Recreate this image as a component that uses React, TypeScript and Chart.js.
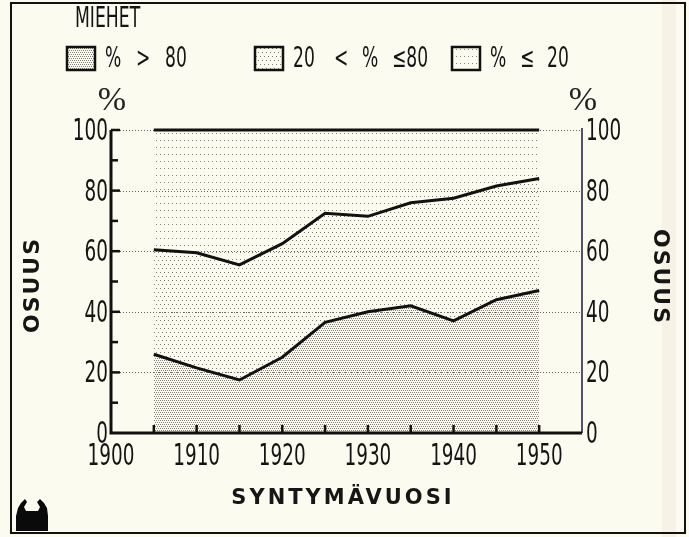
import React, { useEffect, useRef } from "react";
import { Chart, registerables } from "chart.js";

Chart.register(...registerables);

// ---- data ----
const years = [1905, 1910, 1915, 1920, 1925, 1930, 1935, 1940, 1945, 1950];
// cumulative share: % > 80 (lower boundary line)
const shareAbove80 = [26, 21.5, 17.5, 25, 36.5, 40, 42, 37, 44, 47];
// cumulative share: % > 20 (upper boundary line)
const shareAbove20 = [60.5, 59.5, 55.5, 62.5, 72.5, 71.5, 76, 77.5, 81.5, 84];
// everything (top boundary)
const shareAll = [100, 100, 100, 100, 100, 100, 100, 100, 100, 100];

const xTickLabels = [1900, 1910, 1920, 1930, 1940, 1950];
const yTickLabels = [0, 20, 40, 60, 80, 100];
const chartTitle = "MIEHET";
const legendTokens = [
  ["%", ">", "80"],
  ["20", "<", "%", "≤80"],
  ["%", "≤", "20"],
];
const yAxisTitle = "OSUUS";
const xAxisTitle = "SYNTYMÄVUOSI";

const BG = "#fcfbf0";
const NARROW = '"Liberation Sans Narrow", "DejaVu Sans Condensed", "Liberation Sans", sans-serif';

function makePattern(kind: "dense" | "medium" | "sparse"): CanvasPattern | string {
  const c = document.createElement("canvas");
  let dots: number[][] = [];
  let color = "#7d7a72";
  if (kind === "dense") {
    c.width = 4; c.height = 4;
    dots = [[0, 0], [2, 0], [1, 2], [3, 2]];
    color = "#85827a";
  } else if (kind === "medium") {
    c.width = 4; c.height = 8;
    dots = [[0, 0], [2, 4]];
    color = "#7f7c74";
  } else {
    c.width = 4; c.height = 7;
    dots = [[0, 0]];
    color = "#858279";
  }
  const g = c.getContext("2d")!;
  g.fillStyle = color;
  dots.forEach(([x, y]) => g.fillRect(x, y, 1, 1));
  const ctx = document.createElement("canvas").getContext("2d")!;
  return ctx.createPattern(c, "repeat") || color;
}

function narrowText(
  ctx: CanvasRenderingContext2D, text: string, x: number, y: number,
  size: number, align: "left" | "center" | "right", sx = 0.7
) {
  ctx.save();
  ctx.font = `${size}px ${NARROW}`;
  ctx.textBaseline = "middle";
  ctx.textAlign = align;
  ctx.fillStyle = "#141414";
  ctx.translate(x, y);
  ctx.scale(sx, 1);
  ctx.fillText(text, 0, 0);
  ctx.restore();
}

export default function App() {
  const ref = useRef<HTMLCanvasElement>(null);

  useEffect(() => {
    document.body.style.margin = "0";
    const canvas = ref.current!;
    const dense = makePattern("dense");
    const medium = makePattern("medium");
    const sparse = makePattern("sparse");

    const decor = {
      id: "decor",
      beforeDraw(chart: any) {
        const ctx = chart.ctx as CanvasRenderingContext2D;
        ctx.save();
        ctx.fillStyle = BG;
        ctx.fillRect(0, 0, chart.width, chart.height);
        // faint scan band on the right
        ctx.fillStyle = "rgba(235, 200, 190, 0.18)";
        ctx.fillRect(662, 0, 14, chart.height);
        ctx.restore();
      },
      beforeDatasetsDraw(chart: any) {
        const ctx = chart.ctx as CanvasRenderingContext2D;
        const { left, right } = chart.chartArea;
        const y = chart.scales.y;
        ctx.save();
        ctx.strokeStyle = "#66635c";
        ctx.lineWidth = 1;
        ctx.setLineDash([1, 2]);
        [20, 40, 60, 80, 100].forEach((v) => {
          const py = Math.round(y.getPixelForValue(v)) + 0.5;
          ctx.beginPath();
          ctx.moveTo(left, py);
          ctx.lineTo(right, py);
          ctx.stroke();
        });
        ctx.restore();
      },
      afterDatasetsDraw(chart: any) {
        const ctx = chart.ctx as CanvasRenderingContext2D;
        const { left, right, top, bottom } = chart.chartArea;
        const xs = chart.scales.x;
        const ys = chart.scales.y;
        ctx.save();
        // right axis (thin)
        ctx.strokeStyle = "#1d1a3a";
        ctx.lineWidth = 1.5;
        ctx.beginPath();
        ctx.moveTo(right, top - 2);
        ctx.lineTo(right, bottom);
        ctx.stroke();
        // left + bottom axes (thick)
        ctx.strokeStyle = "#111";
        ctx.lineWidth = 3;
        ctx.beginPath();
        ctx.moveTo(left, top);
        ctx.lineTo(left, bottom);
        ctx.lineTo(right, bottom);
        ctx.stroke();
        // y ticks (inward)
        ctx.lineWidth = 2.5;
        for (let v = 10; v <= 100; v += 10) {
          const py = ys.getPixelForValue(v);
          const len = v % 20 === 0 ? 9 : 7;
          ctx.beginPath();
          ctx.moveTo(left, py);
          ctx.lineTo(left + len, py);
          ctx.stroke();
        }
        // x ticks (inward) every 5 years
        for (let v = 1905; v <= 1950; v += 5) {
          const px = xs.getPixelForValue(v);
          ctx.beginPath();
          ctx.moveTo(px, bottom);
          ctx.lineTo(px, bottom - 8);
          ctx.stroke();
        }
        ctx.restore();

        // tick labels
        yTickLabels.forEach((v) => {
          const py = ys.getPixelForValue(v) + 2;
          narrowText(ctx, String(v), left - 3, py, 31, "right", 0.66);
          narrowText(ctx, String(v), right + 4, py, 31, "left", 0.66);
        });
        xTickLabels.forEach((v) => {
          narrowText(ctx, String(v), xs.getPixelForValue(v), bottom + 24, 31, "center", 0.66);
        });

        // % headers
        ctx.save();
        ctx.font = '34px "Liberation Serif", "DejaVu Serif", serif';
        ctx.fillStyle = "#222";
        ctx.textAlign = "center";
        ctx.textBaseline = "middle";
        ctx.fillText("%", left + 1, 101);
        ctx.fillText("%", right + 1, 101);
        ctx.restore();

        // title + legend
        narrowText(ctx, chartTitle, 75, 19, 29, "left", 0.66);
        const boxes: [number, CanvasPattern | string, number[]][] = [
          [67, dense, [105, 136, 165]],
          [255, medium, [293, 334, 362, 392]],
          [452, sparse, [490, 520, 547]],
        ];
        boxes.forEach(([bx, pat, pos], i) => {
          ctx.save();
          ctx.fillStyle = pat as any;
          ctx.fillRect(bx, 47, 28, 23);
          ctx.strokeStyle = "#111";
          ctx.lineWidth = 2.5;
          ctx.strokeRect(bx, 47, 28, 23);
          ctx.restore();
          legendTokens[i].forEach((t, j) => narrowText(ctx, t, pos[j], 60, 28, "left", 0.68));
        });

        // axis titles
        ctx.save();
        ctx.font = 'bold 22px "DejaVu Sans", Verdana, sans-serif';
        ctx.fillStyle = "#161616";
        ctx.textAlign = "center";
        ctx.textBaseline = "middle";
        (ctx as any).letterSpacing = "2px";
        ctx.save();
        ctx.translate(33, 285);
        ctx.rotate(-Math.PI / 2);
        ctx.fillText(yAxisTitle, 0, 0);
        ctx.restore();
        ctx.save();
        ctx.translate(660, 277);
        ctx.rotate(Math.PI / 2);
        ctx.fillText(yAxisTitle, 0, 0);
        ctx.restore();
        ctx.font = 'bold 21px "DejaVu Sans", Verdana, sans-serif';
        (ctx as any).letterSpacing = "3px";
        ctx.fillText(xAxisTitle, 343, 499);
        ctx.restore();

        // outer frame
        ctx.save();
        ctx.strokeStyle = "#111";
        ctx.lineWidth = 2;
        ctx.strokeRect(11, 3, 674, 530);
        // logo
        ctx.fillStyle = "#0a0a0a";
        ctx.beginPath();
        ctx.moveTo(16, 531);
        ctx.lineTo(16, 516);
        ctx.lineTo(18, 508);
        ctx.lineTo(21, 503);
        ctx.lineTo(25, 499);
        ctx.lineTo(27, 502);
        ctx.lineTo(24, 507);
        ctx.lineTo(26, 511);
        ctx.lineTo(38, 511);
        ctx.lineTo(40, 507);
        ctx.lineTo(37, 502);
        ctx.lineTo(40, 499);
        ctx.lineTo(44, 503);
        ctx.lineTo(47, 508);
        ctx.lineTo(48, 516);
        ctx.lineTo(48, 531);
        ctx.closePath();
        ctx.fill();
        ctx.restore();
      },
    };

    const pts = (arr: number[]) => years.map((yr, i) => ({ x: yr, y: arr[i] }));

    const chart = new Chart(canvas, {
      type: "line",
      data: {
        datasets: [
          {
            label: "% > 80",
            data: pts(shareAbove80),
            borderColor: "#111",
            borderWidth: 3,
            backgroundColor: dense as any,
            fill: "origin",
            pointRadius: 0,
            tension: 0,
            clip: false as any,
          },
          {
            label: "20 < % ≤80",
            data: pts(shareAbove20),
            borderColor: "#111",
            borderWidth: 3,
            backgroundColor: medium as any,
            fill: "-1",
            pointRadius: 0,
            tension: 0,
            clip: false as any,
          },
          {
            label: "% ≤ 20",
            data: pts(shareAll),
            borderColor: "#111",
            borderWidth: 3,
            backgroundColor: sparse as any,
            fill: "-1",
            pointRadius: 0,
            tension: 0,
            clip: false as any,
          },
        ],
      },
      options: {
        animation: false,
        responsive: false,
        devicePixelRatio: 1,
        layout: { padding: { left: 111, right: 107, top: 130, bottom: 104 } },
        plugins: { legend: { display: false }, tooltip: { enabled: false }, title: { display: false } },
        scales: {
          x: { type: "linear", min: 1900, max: 1955, display: false },
          y: { type: "linear", min: 0, max: 100, display: false },
        },
      },
      plugins: [decor],
    });
    return () => chart.destroy();
  }, []);

  return <canvas ref={ref} width={689} height={537} style={{ display: "block" }} />;
}
